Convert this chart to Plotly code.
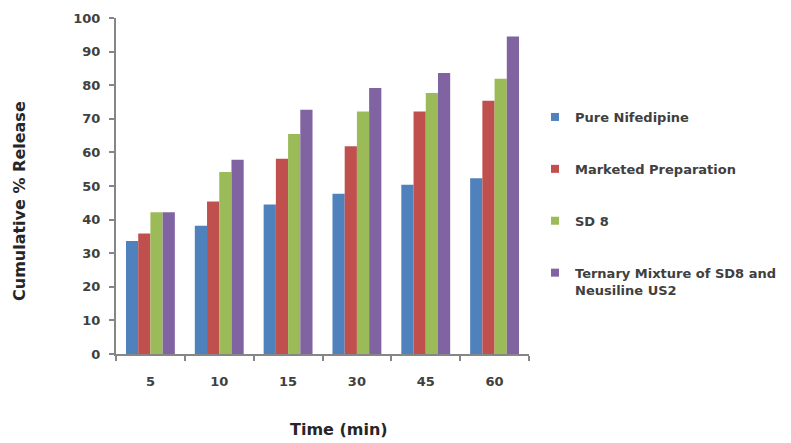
import plotly.graph_objects as go

categories = ["5", "10", "15", "30", "45", "60"]
pure_nifedipine = [33.6, 38.2, 44.5, 47.7, 50.4, 52.3]
marketed_preparation = [35.9, 45.4, 58.1, 61.8, 72.2, 75.4]
sd8 = [42.2, 54.2, 65.5, 72.2, 77.7, 81.9]
ternary = [42.2, 57.8, 72.7, 79.2, 83.6, 94.5]

series_names = ["Pure Nifedipine", "Marketed Preparation", "SD 8",
                "Ternary Mixture of SD8 and<br>Neusiline US2"]
series_values = [pure_nifedipine, marketed_preparation, sd8, ternary]
colors = ["#4F81BD", "#C0504D", "#9BBB59", "#8064A2"]

fig = go.Figure()
for i, (name, vals, col) in enumerate(zip(series_names, series_values, colors)):
    fig.add_trace(go.Bar(x=categories, y=vals, name=name, marker_color=col,
                         marker_line_width=0, legendgroup=str(i), showlegend=False))
    # legend proxy with a small square swatch, as in the reference
    fig.add_trace(go.Scatter(x=[None], y=[None], mode="markers", name=name,
                             marker=dict(symbol="square", size=8, color=col),
                             legendgroup=str(i), showlegend=True, hoverinfo="skip"))

L, R, T, B = 116, 529, 18, 354
axis_col = "#868686"
txt_col = "#404040"
fig.update_layout(
    width=791, height=443,
    margin=dict(l=L, r=791 - R, t=T, b=443 - B, autoexpand=False),
    paper_bgcolor="white", plot_bgcolor="white",
    barmode="group", bargap=0.29, bargroupgap=0,
    font=dict(family="DejaVu Sans", color=txt_col),
    legend=dict(xref="container", yref="container", x=535 / 791, y=1 - 102 / 443,
                xanchor="left", yanchor="top", tracegroupgap=32, valign="top",
                font=dict(family="DejaVu Sans", size=13, color=txt_col, weight="bold"),
                itemwidth=30, bgcolor="rgba(0,0,0,0)"),
    showlegend=True,
)
fig.update_xaxes(
    type="category", showline=True, linecolor=axis_col, linewidth=2,
    ticks="outside", tickson="boundaries", ticklen=5, tickcolor=axis_col, tickwidth=2,
    tickfont=dict(family="DejaVu Sans", size=13, color=txt_col, weight="bold"),
    ticklabelstandoff=14, showgrid=False, zeroline=False,
)
fig.update_yaxes(
    range=[0, 100], dtick=10, showline=True, linecolor=axis_col, linewidth=2,
    ticks="outside", ticklen=5, tickcolor=axis_col, tickwidth=2,
    tickfont=dict(family="DejaVu Sans", size=13, color=txt_col, weight="bold"),
    ticklabelstandoff=6, showgrid=False, zeroline=False,
)
fig.add_annotation(text="Time (min)", xref="paper", yref="paper",
                   x=(339 - L) / (R - L), y=(B - 429) / (B - T),
                   xanchor="center", yanchor="middle", showarrow=False,
                   font=dict(family="DejaVu Sans", size=16, color="#262626", weight="bold"))
fig.add_annotation(text="Cumulative % Release", xref="paper", yref="paper",
                   x=(19 - L) / (R - L), y=(B - 201) / (B - T), textangle=-90,
                   xanchor="center", yanchor="middle", showarrow=False,
                   font=dict(family="DejaVu Sans", size=16, color="#262626", weight="bold"))

fig.write_html("out.html", config={"displayModeBar": False},
               post_script="document.body.style.margin='0px';")
